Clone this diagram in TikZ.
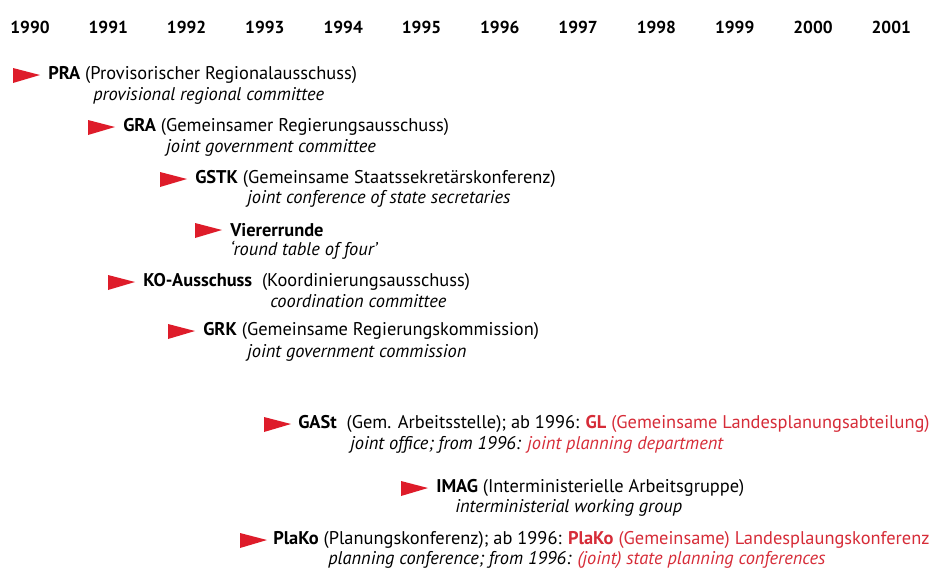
\documentclass[tikz,border=0pt]{standalone}
\usepackage{fontspec}
\setmainfont{PT Sans}
\usepackage{xcolor}
\definecolor{flagred}{RGB}{222,28,42}
\definecolor{textred}{RGB}{214,44,56}
\usetikzlibrary{positioning}

% red pennant, tip pointing right; #1,#2 = left edge, middle height
\newcommand{\pennant}[2]{\fill[flagred] (#1,#2-7) -- (#1+27,#2) -- (#1,#2+8) -- cycle;}

\begin{document}
\begin{tikzpicture}[x=0.75pt, y=-0.75pt,
    year/.style={inner sep=0pt, font=\fontsize{13}{15}\selectfont\bfseries},
    entry/.style={anchor=west, inner sep=0pt, font=\fontsize{13.8}{16}\selectfont},
    gloss/.style={anchor=west, inner sep=0pt, font=\fontsize{13.8}{16}\selectfont\itshape}]

\useasboundingbox (0,0) rectangle (930,568);

% Years along the top
\foreach \yr [count=\i from 0] in {1990,...,2001}
    \node[year] (y\yr) at ({30+78.3*\i},27) {\yr};

% PRA
\pennant{13}{75}
\node[entry] (pra) at (48,75) {\textbf{PRA} (Provisorischer Regionalausschuss)};
\node[gloss] (pra-en) at (93,96) {provisional regional committee};

% GRA
\pennant{88}{127}
\node[entry] (gra) at (123,127) {\textbf{GRA} (Gemeinsamer Regierungsausschuss)};
\node[gloss] (gra-en) at (166,148) {joint government committee};

% GSTK
\pennant{160}{179}
\node[entry] (gstk) at (195,179) {\textbf{GSTK} (Gemeinsame Staatssekretärskonferenz)};
\node[gloss] (gstk-en) at (247,199) {joint conference of state secretaries};

% Viererrunde
\pennant{195}{230}
\node[entry] (vier) at (230,230) {\textbf{Viererrunde}};
\node[gloss] (vier-en) at (230,250) {`round table of four'};

% KO-Ausschuss
\pennant{108}{282}
\node[entry] (ko) at (143,282) {\textbf{KO-Ausschuss}\ \ (Koordinierungsausschuss)};
\node[gloss] (ko-en) at (270,301) {coordination committee};

% GRK
\pennant{168}{331}
\node[entry] (grk) at (203,331) {\textbf{GRK} (Gemeinsame Regierungskommission)};
\node[gloss] (grk-en) at (247,353) {joint government commission};

% GASt / GL
\pennant{264}{424}
\node[entry] (gast) at (298,424) {\textbf{GASt}\ \ (Gem. Arbeitsstelle); ab 1996: \textcolor{textred}{\textbf{GL} (Gemeinsame Landesplanungsabteilung)}};
\node[gloss] (gast-en) at (350,445) {joint office; from 1996: \textcolor{textred}{joint planning department}};

% IMAG
\pennant{401}{488}
\node[entry] (imag) at (436,488) {\textbf{IMAG} (Interministerielle Arbeitsgruppe)};
\node[gloss] (imag-en) at (455,508) {interministerial working group};

% PlaKo
\pennant{240}{540}
\node[entry] (plako) at (273,540) {\textbf{PlaKo} (Planungskonferenz); ab 1996: \textcolor{textred}{\textbf{PlaKo} (Gemeinsame) Landesplaungskonferenz}};
\node[gloss] (plako-en) at (328,560) {planning conference; from 1996: \textcolor{textred}{(joint) state planning conferences}};

\end{tikzpicture}
\end{document}
